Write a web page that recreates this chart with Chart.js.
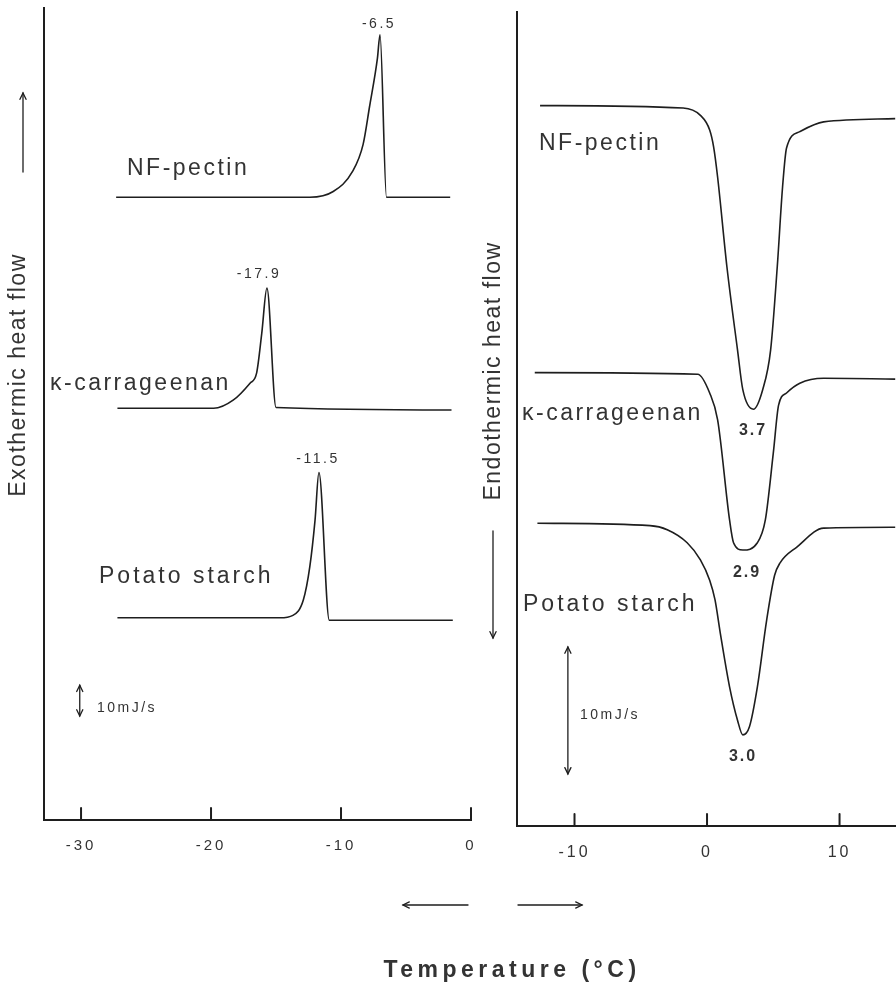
<!DOCTYPE html>
<html>
<head>
<meta charset="utf-8">
<script src="https://cdn.jsdelivr.net/npm/chart.js@4"></script>
<style>
  body { margin: 0; background: #fff; }
  #wrap { position: relative; width: 896px; height: 983px; overflow: hidden; }
  #freeze { position: absolute; left: 0; top: 0; }
  #melt { position: absolute; left: 480px; top: 0; }
</style>
</head>
<body>
<div id="wrap">
  <canvas id="freeze" width="896" height="983"></canvas>
  <canvas id="melt" width="416" height="880"></canvas>
</div>
<script>
// tick labels (deg C)
const coolTicks = [-30, -20, -10, 0]
const heatTicks = [-10, 0, 10]

// sample names and peak temperatures printed on the curves
const samples = ['NF-pectin', '\u03ba-carrageenan', 'Potato starch']
const freezePeaks = ['-6.5', '-17.9', '-11.5']
const meltPeaks = ['3.7', '2.9', '3.0']

// cooling run (exothermic, left panel) - temperature / heat flow (panel units 0-100)
const pectinCoolT = [-27.3, -12.4, -10.6, -9.1, -8.3, -7.8, -7.2, -7.0, -6.5, -1.6]
const pectinCoolY = [76.7, 76.7, 77.4, 79.9, 83.2, 87.9, 93.8, 96.7, 76.7, 76.7]
const kappaCoolT = [-27.2, -19.8, -18.3, -17.0, -16.5, -16.1, -15.7, -15.0, -1.5]
const kappaCoolY = [50.7, 50.7, 51.7, 53.8, 55.0, 59.9, 65.5, 50.8, 50.5]
const potatoCoolT = [-27.2, -14.7, -13.7, -12.9, -12.4, -12.0, -11.7, -10.9, -1.4]
const potatoCoolY = [24.9, 24.9, 25.2, 27.1, 31.2, 36.9, 42.8, 24.6, 24.6]

// heating run (endothermic, right panel)
const pectinHeatT = [-12.6, -1.8, -0.5, 0.2, 0.5, 0.8, 1.5, 2.3, 2.7, 3.5, 4.2, 4.8, 5.3, 5.7, 6.0, 7.0, 8.8, 14.2]
const pectinHeatY = [88.5, 88.2, 87.3, 85.5, 83.4, 79.7, 68.7, 58.5, 53.6, 51.2, 53.6, 58.5, 68.7, 78.5, 83.3, 85.3, 86.5, 86.9]
const kappaHeatT = [-13.0, -0.7, 0.2, 0.8, 1.7, 2.0, 2.7, 3.8, 4.4, 5.0, 5.4, 6.0, 7.0, 8.8, 14.2]
const kappaHeatY = [55.7, 55.5, 53.2, 49.9, 37.6, 34.8, 33.9, 34.8, 37.6, 45.8, 51.7, 53.2, 54.4, 55.0, 54.9]
const potatoHeatT = [-12.8, -4.3, -3.0, -1.5, -0.5, 0.2, 0.6, 1.0, 1.7, 2.3, 2.7, 3.2, 3.8, 4.5, 5.1, 5.5, 6.8, 8.8, 14.2]
const potatoHeatY = [37.2, 36.9, 36.4, 34.8, 32.7, 30.2, 27.8, 23.7, 17.1, 13.0, 11.2, 12.2, 17.1, 25.3, 30.8, 32.3, 34.3, 36.6, 36.7]

// 10 mJ/s scale bars, in panel units
const coolBar = { t: -30.1, from: 12.8, to: 16.6 }
const heatBar = { t: -10.5, from: 6.4, to: 22.0 }

const ink = '#1e1e1e'
const textInk = '#333'
const face = "'Liberation Sans', Arial, sans-serif"

function pts(xs, ys) {
    return xs.map((x, i) => ({ x: x, y: ys[i] }))
}

function line(xs, ys) {
    return {
        data: pts(xs, ys),
        borderColor: ink,
        borderWidth: 1.6,
        pointRadius: 0,
        fill: false,
        cubicInterpolationMode: 'monotone'
    }
}

function arrow(ctx, x1, y1, x2, y2, both) {
    const head = (xa, ya, xb, yb) => {
        const a = Math.atan2(yb - ya, xb - xa)
        ctx.beginPath()
        ctx.moveTo(xb - 7 * Math.cos(a - 0.45), yb - 7 * Math.sin(a - 0.45))
        ctx.lineTo(xb, yb)
        ctx.lineTo(xb - 7 * Math.cos(a + 0.45), yb - 7 * Math.sin(a + 0.45))
        ctx.stroke()
    }
    ctx.beginPath()
    ctx.moveTo(x1, y1)
    ctx.lineTo(x2, y2)
    ctx.stroke()
    head(x1, y1, x2, y2)
    if (both) head(x2, y2, x1, y1)
}

function text(ctx, str, x, y, size, spacing, align, opts) {
    opts = opts || {}
    ctx.save()
    ctx.fillStyle = textInk
    ctx.font = (opts.bold ? 'bold ' : '') + size + 'px ' + face
    ctx.letterSpacing = spacing + 'px'
    ctx.textAlign = align
    ctx.textBaseline = 'alphabetic'
    ctx.translate(x, y)
    if (opts.rotate) ctx.rotate(-Math.PI / 2)
    ctx.fillText(str, 0, 0)
    ctx.restore()
}

const decor = {
    id: 'decor',
    beforeDraw(chart, args, o) {
        // spaced-out tick labels like the typeset original
        chart.ctx.letterSpacing = o.tickSpacing + 'px'
    },
    afterDraw(chart, args, o) {
        const ctx = chart.ctx
        ctx.letterSpacing = '0px'
        const xs = chart.scales.x
        const ys = chart.scales.y
        const area = chart.chartArea
        ctx.save()
        ctx.strokeStyle = ink
        ctx.lineCap = 'round'
        // inward tick marks
        ctx.lineWidth = 2
        o.tickVals.forEach(v => {
            const x = xs.getPixelForValue(v)
            ctx.beginPath()
            ctx.moveTo(x, area.bottom)
            ctx.lineTo(x, area.bottom - 12)
            ctx.stroke()
        })
        // scale bar
        ctx.lineWidth = 1.3
        const bx = xs.getPixelForValue(o.bar.t)
        arrow(ctx, bx, ys.getPixelForValue(o.bar.from), bx, ys.getPixelForValue(o.bar.to), true)
        o.arrows.forEach(a => arrow(ctx, a[0], a[1], a[2], a[3], false))
        ctx.restore()
        o.texts.forEach(t => text(ctx, t.s, t.x, t.y, t.size, t.sp, t.align || 'left', t))
    }
}

function baseOptions(min, max, ticks, axisH, pad, tickPad, tickSize) {
    return {
        responsive: false,
        animation: false,
        layout: { padding: pad },
        plugins: { legend: { display: false }, tooltip: { enabled: false } },
        scales: {
            x: {
                type: 'linear',
                min: min,
                max: max,
                afterBuildTicks: s => { s.ticks = ticks.map(v => ({ value: v })) },
                afterFit: s => { s.height = axisH },
                grid: { display: false, drawTicks: false },
                border: { display: true, color: ink, width: 2 },
                ticks: {
                    padding: tickPad,
                    color: textInk,
                    font: { family: face, size: tickSize },
                    maxRotation: 0,
                    callback: v => String(v)
                }
            },
            y: {
                type: 'linear',
                min: 0,
                max: 100,
                afterFit: s => { s.width = 0 },
                grid: { display: false, drawTicks: false },
                border: { display: true, color: ink, width: 2 },
                ticks: { display: false }
            }
        }
    }
}

// left panel: freezing exotherms, also carries the shared bottom title
const coolOpts = baseOptions(-32.85, 0, coolTicks, 60, { left: 44, top: 8, right: 425, bottom: 103 }, 17, 15)
coolOpts.plugins.decor = {
    tickVals: coolTicks,
    tickSpacing: 3,
    bar: coolBar,
    arrows: [[23, 172, 23, 93], [468, 905, 403, 905], [518, 905, 582, 905]],
    texts: [
        { s: 'Exothermic heat flow', x: 25, y: 375, size: 23, sp: 1.5, align: 'center', rotate: true },
        { s: samples[0], x: 127, y: 175, size: 23, sp: 2.5 },
        { s: samples[1], x: 50, y: 390, size: 23, sp: 2.5 },
        { s: samples[2], x: 99, y: 583, size: 23, sp: 3 },
        { s: freezePeaks[0], x: 379, y: 28, size: 14, sp: 2.5, align: 'center' },
        { s: freezePeaks[1], x: 259, y: 278, size: 14, sp: 2.5, align: 'center' },
        { s: freezePeaks[2], x: 318, y: 463, size: 14, sp: 2.5, align: 'center' },
        { s: '10mJ/s', x: 97, y: 712, size: 14, sp: 2.5 },
        { s: 'Temperature (\u00b0C)', x: 512, y: 977, size: 23, sp: 4.5, align: 'center', bold: true }
    ]
}

new Chart(document.getElementById('freeze'), {
    type: 'line',
    data: {
        datasets: [
            line(pectinCoolT, pectinCoolY),
            line(kappaCoolT, kappaCoolY),
            line(potatoCoolT, potatoCoolY)
        ]
    },
    options: coolOpts,
    plugins: [decor]
})

// right panel: melting endotherms
const heatOpts = baseOptions(-14.34, 14.26, heatTicks, 54, { left: 37, top: 12, right: 0, bottom: 0 }, 17, 16)
heatOpts.plugins.decor = {
    tickVals: heatTicks,
    tickSpacing: 3,
    bar: heatBar,
    arrows: [[13, 531, 13, 638]],
    texts: [
        { s: 'Endothermic heat flow', x: 20, y: 371, size: 23, sp: 1.5, align: 'center', rotate: true },
        { s: samples[0], x: 59, y: 150, size: 23, sp: 2.5 },
        { s: samples[1], x: 42, y: 420, size: 23, sp: 2.5 },
        { s: samples[2], x: 43, y: 611, size: 23, sp: 3 },
        { s: meltPeaks[0], x: 273, y: 435, size: 16, sp: 2, align: 'center', bold: true },
        { s: meltPeaks[1], x: 267, y: 577, size: 16, sp: 2, align: 'center', bold: true },
        { s: meltPeaks[2], x: 263, y: 761, size: 16, sp: 2, align: 'center', bold: true },
        { s: '10mJ/s', x: 100, y: 719, size: 14, sp: 2.5 }
    ]
}

new Chart(document.getElementById('melt'), {
    type: 'line',
    data: {
        datasets: [
            line(pectinHeatT, pectinHeatY),
            line(kappaHeatT, kappaHeatY),
            line(potatoHeatT, potatoHeatY)
        ]
    },
    options: heatOpts,
    plugins: [decor]
})
</script>
</body>
</html>
